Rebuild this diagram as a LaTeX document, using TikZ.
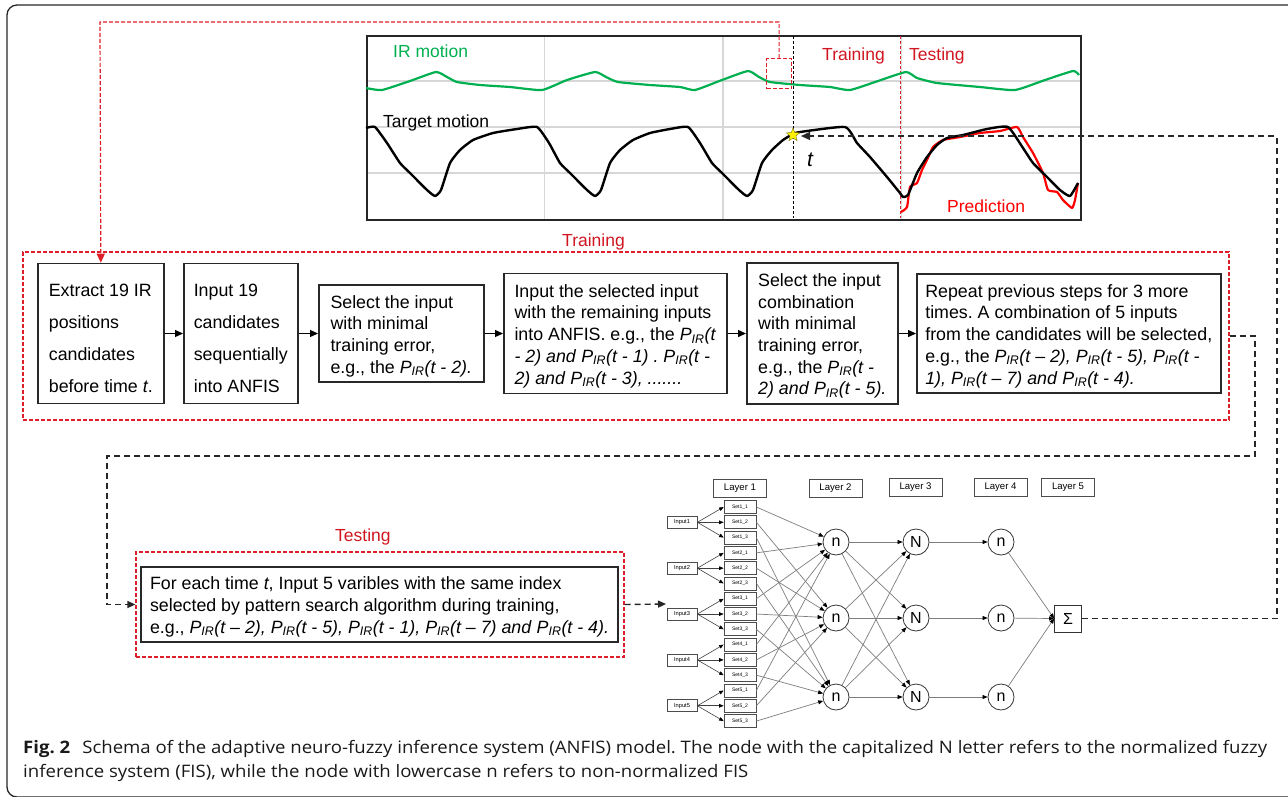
\documentclass[tikz,border=0pt]{standalone}
\usepackage{fontspec}
\setmainfont{Liberation Sans}
\newfontfamily\capfont{Open Sans}[FakeStretch=1.08]
\usetikzlibrary{arrows.meta,shapes.geometric}
\definecolor{irgreen}{RGB}{0,176,80}
\definecolor{lblred}{RGB}{208,22,32}
\definecolor{dred}{RGB}{222,30,40}
\definecolor{gridgray}{RGB}{215,215,215}
\definecolor{boxgray}{RGB}{40,40,40}
\definecolor{netgray}{RGB}{125,125,125}
\newcommand{\PIR}{\textit{P}\textsubscript{\textit{IR}}}
\newcommand{\tstrut}[1]{\rule{0pt}{#1}}
\frenchspacing
\tikzset{
  stepbox/.style={draw=boxgray, line width=1.6pt, align=left, inner sep=3pt,
    font=\fontsize{17.8}{21.7}\selectfont, anchor=west},
  flow/.style={line width=1.3pt, -{Triangle[length=8pt,width=7pt]}},
  bdash/.style={draw=black!85, line width=1.4pt, dash pattern=on 6pt off 4pt},
  rdash/.style={draw=dred, line width=1.2pt, dash pattern=on 4pt off 2pt},
  plotlbl/.style={font=\fontsize{17.5}{20}\selectfont, inner sep=0, anchor=base west},
  layerbox/.style={draw=black!70, line width=0.8pt, minimum width=53, minimum height=18,
    inner sep=0, font=\fontsize{9.6}{10}\selectfont},
  inbox/.style={draw=black!70, line width=0.7pt, minimum width=30, minimum height=12,
    inner sep=0, font=\fontsize{5.7}{6}\selectfont},
  setbox/.style={draw=black!70, line width=0.7pt, minimum width=32, minimum height=13,
    inner sep=0, font=\fontsize{5}{6}\selectfont},
  neuron/.style={circle, draw=black!80, line width=0.8pt, minimum size=26, inner sep=0,
    font=\fontsize{16}{16}\selectfont},
  netline/.style={draw=netgray, line width=0.7pt, -{Triangle[length=5pt,width=4pt,color=black]}},
  netarr/.style={draw=black!75, line width=0.6pt, -{Triangle[length=4.5pt,width=3.6pt,color=black]}},
  caption/.style={font=\capfont\fontsize{17.2}{22}\selectfont, text=black!90, inner sep=0, anchor=base west}
}
\begin{document}
\begin{tikzpicture}[x=1pt,y=-1pt]
\useasboundingbox (0,0) rectangle (1288,796);
\clip (0,0) rectangle (1288,796);
% outer frame
\draw[black!85, line width=1.3pt, rounded corners=10pt] (1297,5) -- (7,5) -- (7,797) -- (1297,797);

% ---------- plot ----------
\foreach \gx in {544.5,723,901.5} \draw[gridgray, line width=1.2pt] (\gx,35) -- (\gx,219);
\foreach \gy in {81,127,173} \draw[gridgray, line width=1.2pt] (366,\gy) -- (1080,\gy);
\node[draw=black!85, line width=1.8pt, minimum width=714, minimum height=184, inner sep=0, anchor=north west] (plotbox) at (366,35) {};
\draw[black, line width=1pt, dash pattern=on 3pt off 2pt] (793,36) -- (793,218);
\draw[dred, line width=1pt, dash pattern=on 3pt off 2pt] (900,36) -- (900,218);

\draw[irgreen, line width=2.2pt, line join=round] plot[smooth, tension=0.3] coordinates {
(366,88) (382,90) (410,81) (436,72) (447,77) (457,82) (480,85) (510,87) (542,90) (567,80) (595,72) (606,77) (618,82) (650,85) (680,87) (695,90) (722,80) (748,71) (759,77) (770,82) (800,85) (830,87) (850,90) (878,81) (906,72) (917,78) (937,83) (980,87) (1015,90) (1045,80) (1073,71) (1079,75)};

\draw[red, line width=2.2pt, line join=round] plot[smooth, tension=0.3] coordinates {
(901,212) (907,207) (910,187) (917,183) (922,170) (927,160) (933,147) (943,140) (960,137) (980,133) (1000,131) (1017,127) (1023,137) (1033,153) (1043,173) (1048,190) (1057,192) (1063,200) (1072,208) (1075,200) (1078,183)};

\draw[black, line width=2.4pt, line join=round] plot[smooth, tension=0.3] coordinates {
(366,128) (375,127) (387,143) (400,163) (410,173) (427,190) (435,196) (441,190) (450,163) (460,150) (473,140) (493,133) (517,129) (537,127)
(549,143) (560,163) (570,173) (587,190) (595,196) (601,190) (610,163) (620,150) (633,140) (650,133) (670,129) (688,127)
(700,143) (712,163) (722,173) (739,190) (747,196) (753,190) (762,163) (772,150) (783,140) (793,134) (800,132) (845,127)
(857,143) (870,157) (887,177) (900,193) (903,197) (908,195) (917,173) (927,157) (937,145) (947,138) (963,135) (987,129) (1008,127) (1023,148) (1033,163) (1047,177) (1060,190) (1070,196) (1078,183)};

\node[plotlbl, text=irgreen] (irlbl) at (393,57) {IR motion};
\node[plotlbl] (tmlbl) at (383,127) {Target motion};
\node[plotlbl, text=lblred] (trlbl) at (822,60) {Training};
\node[plotlbl, text=lblred] (tslbl) at (909,60) {Testing};
\node[plotlbl, text=red] (prlbl) at (947,212) {Prediction};
\node[font=\fontsize{21}{21}\selectfont\itshape, inner sep=0] (tlbl) at (810,160) {t};
\node[rdash, minimum width=25, minimum height=30, inner sep=0, anchor=north west] (irbox) at (766,58) {};
\node[star, star points=5, star point ratio=2.3, fill=yellow, draw=olive!80!black, line width=0.4pt, minimum size=14, inner sep=0] (star) at (793,135) {};
\coordinate (tpt) at (801,136);

% ---------- training ----------
\node[rdash, minimum width=1206, minimum height=168, inner sep=0] (train) at (626,336) {};
\node[font=\fontsize{17.5}{20}\selectfont, text=lblred, inner sep=0, anchor=base west] (trainlbl) at (562,246) {Training};

\node[stepbox, minimum width=126, minimum height=140, font=\fontsize{17.8}{32}\selectfont] (b1) at (37,333.5)
  {\tstrut{23pt}Extract 19 IR\\positions\\candidates\\before time \textit{t}.};
\node[stepbox, minimum width=114, minimum height=140, font=\fontsize{17.8}{32}\selectfont] (b2) at (183,333.5)
  {\tstrut{23pt}Input 19\\candidates\\sequentially\\into ANFIS};
\node[stepbox, minimum width=165, minimum height=97] (b3) at (318,333.5)
  {\tstrut{18pt}Select the input\\with minimal\\training error,\\e.g., the \PIR\textit{(t - 2).}};
\node[stepbox, minimum width=223, minimum height=120] (b4) at (503,333.5)
  {\tstrut{18pt}Input the selected input\\with the remaining inputs\\into ANFIS. e.g., the \PIR\textit{(t}\\\textit{- 2) and }\PIR\textit{(t - 1) . }\PIR\textit{(t -}\\\textit{2) and }\PIR\textit{(t - 3), .......}};
\node[stepbox, minimum width=151, minimum height=141] (b5) at (746,333.5)
  {\tstrut{18pt}Select the input\\combination\\with minimal\\training error,\\e.g., the \PIR\textit{(t -}\\\textit{2) and }\PIR\textit{(t - 5).}};
\node[stepbox, minimum width=304, minimum height=119] (b6) at (916,333.5)
  {\tstrut{18pt}Repeat previous steps for 3 more\\times. A combination of 5 inputs\\from the candidates will be selected,\\e.g., the \PIR\textit{(t – 2), }\PIR\textit{(t - 5), }\PIR\textit{(t -}\\\textit{1), }\PIR\textit{(t – 7) and }\PIR\textit{(t - 4).}};
\draw[flow] (b1) -- (b2);
\draw[flow] (b2) -- (b3);
\draw[flow] (b3) -- (b4);
\draw[flow] (b4) -- (b5);
\draw[flow] (b5) -- (b6);

% red connector from IR box to first step
\draw[rdash, -{Triangle[length=9pt,width=8pt]}] (irbox.north) |- (100,22) -- (b1.north);

% ---------- testing ----------
\node[rdash, minimum width=488, minimum height=105, inner sep=0] (testred) at (380,604.5) {};
\node[font=\fontsize{17.5}{20}\selectfont, text=lblred, inner sep=0, anchor=base west] (testlbl) at (335,541) {Testing};
\node[stepbox, anchor=center, minimum width=477, minimum height=75] (tbox) at (379.5,604.5)
  {\tstrut{18pt}For each time \textit{t}, Input 5 varibles with the same index\\selected by pattern search algorithm during training,\\e.g., \PIR\textit{(t – 2), }\PIR\textit{(t - 5), }\PIR\textit{(t - 1), }\PIR\textit{(t – 7) and }\PIR\textit{(t - 4).}};

\draw[bdash, -{Triangle[length=8pt,width=7pt]}] (train.east) -| (1255,456) -| (107,604.5) -- (testred.west);

% ---------- network ----------
\coordinate (netin) at (666,604);
\draw[bdash, -{Triangle[length=8pt,width=7pt]}] (testred.east) -- (netin);

\node[layerbox] (L1) at (740,488.5) {Layer 1};
\node[layerbox] (L2) at (835.5,488.5) {Layer 2};
\node[layerbox] (L3) at (915.5,487.5) {Layer 3};
\node[layerbox] (L4) at (1000.5,487.5) {Layer 4};
\node[layerbox] (L5) at (1068,487.5) {Layer 5};

\foreach \i in {1,...,5} {
  \pgfmathsetmacro\yy{507+15.29*(3*(\i-1)+1)}
  \node[inbox] (in\i) at (682,\yy) {Input\i};
  \foreach \j in {1,2,3} {
    \pgfmathsetmacro\ys{507+15.29*(3*(\i-1)+\j-1)}
    \node[setbox] (s\i\j) at (740,\ys) {Set\i\_\j};
  }
}
\node[neuron] (ra1) at (836,542) {n};
\node[neuron] (ra2) at (836,618) {n};
\node[neuron] (ra3) at (836,697) {n};
\node[neuron] (rb1) at (916,542) {N};
\node[neuron] (rb2) at (916,618) {N};
\node[neuron] (rb3) at (916,697) {N};
\node[neuron] (rc1) at (1001,542) {n};
\node[neuron] (rc2) at (1001,618) {n};
\node[neuron] (rc3) at (1001,697) {n};
\node[draw=black!80, line width=0.8pt, minimum size=27, inner sep=0, font=\fontsize{16}{16}\selectfont] (sigma) at (1068,618.5) {Σ};

\foreach \i in {1,...,5} \foreach \j in {1,2,3} {
  \draw[netarr] (in\i.east) -- (s\i\j.west);
  \draw[netline] (s\i\j.east) -- (ra\j);
}
\foreach \a in {1,2,3} \foreach \b in {1,2,3} \draw[netline] (ra\a) -- (rb\b);
\foreach \a in {1,2,3} {
  \draw[netline] (rb\a) -- (rc\a);
  \draw[netline] (rc\a) -- (sigma.west);
}

\draw[bdash, -{Triangle[length=9pt,width=8pt]}] (sigma.east) -- ++(195,0) |- (tpt);

% ---------- caption ----------
\node[caption] (cap1) at (23,753) {\textbf{Fig. 2}\hspace{0.7em}Schema of the adaptive neuro-fuzzy inference system (ANFIS) model. The node with the capitalized N letter refers to the normalized fuzzy};
\node[caption] (cap2) at (23,777) {inference system (FIS), while the node with lowercase n refers to non-normalized FIS};
\end{tikzpicture}
\end{document}
